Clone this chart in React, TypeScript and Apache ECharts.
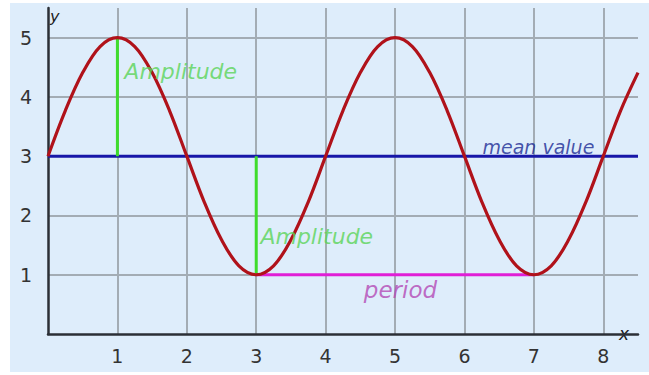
import React, { useEffect, useRef } from "react";
import * as echarts from "echarts";

// ---- data ----
const curveX = [
  0, 0.25, 0.5, 0.75, 1, 1.25, 1.5, 1.75, 2, 2.25, 2.5, 2.75, 3, 3.25, 3.5, 3.75,
  4, 4.25, 4.5, 4.75, 5, 5.25, 5.5, 5.75, 6, 6.25, 6.5, 6.75, 7, 7.25, 7.5, 7.75,
  8, 8.25, 8.5,
];
const curveY = [
  3, 3.77, 4.41, 4.85, 5, 4.85, 4.41, 3.77, 3, 2.23, 1.59, 1.15, 1, 1.15, 1.59, 2.23,
  3, 3.77, 4.41, 4.85, 5, 4.85, 4.41, 3.77, 3, 2.23, 1.59, 1.15, 1, 1.15, 1.59, 2.23,
  3, 3.77, 4.41,
];
const meanValue = 3;
const xRange = [0, 8.5];
const yRange = [0, 5.5];
const amplitudeLines = [
  [[1, 3], [1, 5]],
  [[3, 1], [3, 3]],
];
const periodLine = [[3, 1], [7, 1]];
const annotationTexts = ["Amplitude", "Amplitude", "mean value", "period"];
const annotationX = [1.1, 3.06, 6.26, 4.55];
const annotationY = [4.43, 1.65, 3.16, 0.74];
const xTickLabels = ["1", "2", "3", "4", "5", "6", "7", "8"];
const yTickLabels = ["1", "2", "3", "4", "5"];

const FONT = "DejaVu Sans, Verdana, sans-serif";

export default function App() {
  const ref = useRef<HTMLDivElement>(null);

  useEffect(() => {
    if (!ref.current) return;
    const chart = echarts.init(ref.current, null, { renderer: "svg" });

    const annotationStyles = [
      { color: "#5ad457", fontSize: 22 },
      { color: "#5ad457", fontSize: 22 },
      { color: "#1a2a94", fontSize: 19 },
      { color: "#b348b5", fontSize: 23 },
    ];

    chart.setOption({
      animation: false,
      backgroundColor: "#ffffff",
      graphic: [
        {
          type: "rect",
          z: -10,
          silent: true,
          shape: { x: 10, y: 3, width: 639, height: 369 },
          style: { fill: "#deedfb" },
        },
      ],
      grid: { left: 48, right: 11, top: 8, bottom: 41, containLabel: false },
      xAxis: {
        type: "value",
        min: xRange[0],
        max: xRange[1],
        interval: 1,
        name: "x",
        nameLocation: "end",
        nameGap: -19,
        nameTextStyle: {
          fontFamily: FONT,
          fontSize: 17,
          fontStyle: "italic",
          color: "#1d1d1d",
          padding: [0, 0, 6, 0],
        },
        axisLine: { show: true, lineStyle: { color: "#2b2f36", width: 2.5 } },
        axisTick: { show: false },
        axisLabel: {
          margin: 12,
          fontFamily: FONT,
          fontSize: 19,
          color: "#333",
          formatter: (v: number) => (xTickLabels.includes(String(v)) ? String(v) : ""),
        },
        splitLine: {
          show: true,
          showMinLine: false,
          showMaxLine: false,
          lineStyle: { color: "#a3acb4", width: 2 },
        },
      },
      yAxis: {
        type: "value",
        min: yRange[0],
        max: yRange[1],
        interval: 1,
        name: "y",
        nameLocation: "end",
        nameGap: 0,
        nameTextStyle: {
          fontFamily: FONT,
          fontSize: 16,
          fontStyle: "italic",
          color: "#1d1d1d",
          align: "left",
          verticalAlign: "top",
          padding: [0, 0, 0, 2],
        },
        axisLine: { show: true, lineStyle: { color: "#2b2f36", width: 2.5 } },
        axisTick: { show: false },
        axisLabel: {
          margin: 16,
          fontFamily: FONT,
          fontSize: 19,
          color: "#333",
          formatter: (v: number) => (yTickLabels.includes(String(v)) ? String(v) : ""),
        },
        splitLine: {
          show: true,
          showMinLine: false,
          showMaxLine: false,
          lineStyle: { color: "#a3acb4", width: 2 },
        },
      },
      series: [
        {
          name: "mean value",
          type: "line",
          symbol: "none",
          silent: true,
          z: 3,
          data: [[xRange[0], meanValue], [xRange[1], meanValue]],
          lineStyle: { color: "#1717a8", width: 3 },
        },
        ...amplitudeLines.map((seg, i) => ({
          name: "amplitude" + i,
          type: "line",
          symbol: "none",
          silent: true,
          z: 3,
          data: seg,
          lineStyle: { color: "#3fdc2c", width: 3 },
        })),
        {
          name: "period",
          type: "line",
          symbol: "none",
          silent: true,
          z: 3,
          data: periodLine,
          lineStyle: { color: "#e01fd6", width: 3 },
        },
        {
          name: "curve",
          type: "line",
          symbol: "none",
          smooth: 0.35,
          z: 4,
          data: curveX.map((x, i) => [x, curveY[i]]),
          lineStyle: { color: "#b0121a", width: 3.2 },
        },
        {
          name: "annotations",
          type: "scatter",
          symbolSize: 0,
          silent: true,
          z: 5,
          data: annotationTexts.map((t, i) => ({
            value: [annotationX[i], annotationY[i]],
            name: t,
            label: {
              show: true,
              position: "right",
              distance: 0,
              formatter: t,
              fontFamily: FONT,
              fontStyle: "italic",
              fontSize: annotationStyles[i].fontSize,
              color: annotationStyles[i].color,
            },
          })),
        },
      ],
    });

    return () => chart.dispose();
  }, []);

  return (
    <div
      ref={ref}
      style={{ position: "absolute", left: 0, top: 0, width: 649, height: 375 }}
    />
  );
}
